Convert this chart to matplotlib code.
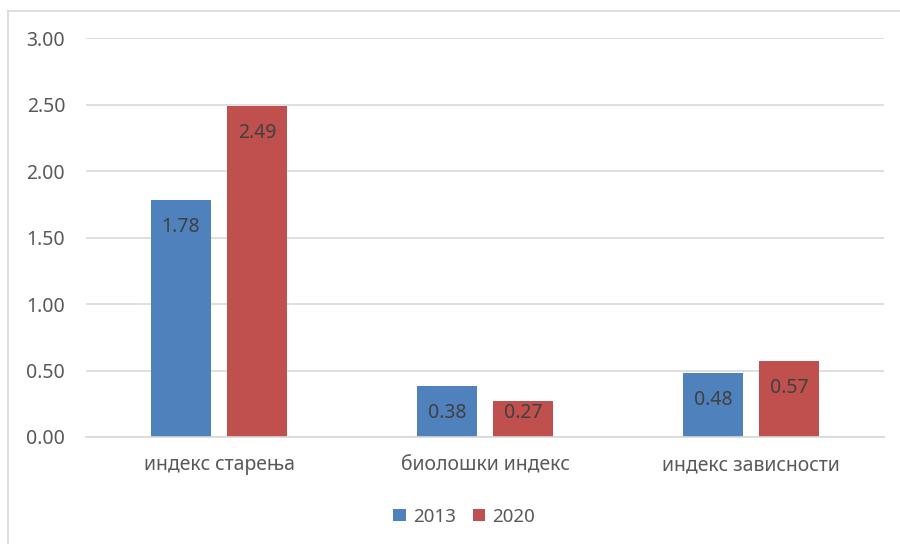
import matplotlib.pyplot as plt
import numpy as np
from matplotlib.lines import Line2D

# данни
categories = ['индекс старења', 'биолошки индекс', 'индекс зависности']
years = ['2013', '2020']
values_2013 = [1.78, 0.38, 0.48]
values_2020 = [2.49, 0.27, 0.57]
colors = ['#4F81BD', '#C0504D']

plt.rcParams['font.family'] = ['Noto Sans', 'DejaVu Sans']

fig = plt.figure(figsize=(9, 5.44), dpi=100)
ax = fig.add_axes([86 / 900, 1 - 437 / 544, 798 / 900, 399 / 544])

x = np.arange(len(categories))
width = 0.2256
offset = 0.1428

for vals, col, off, lab in [(values_2013, colors[0], -offset, years[0]),
                            (values_2020, colors[1], offset, years[1])]:
    bars = ax.bar(x + off, vals, width, color=col, label=lab, zorder=2)
    for b, v in zip(bars, vals):
        # ознака унутар стуба, али не испод дна
        ypos = max(v - 0.203, 0.18)
        ax.text(b.get_x() + b.get_width() / 2, ypos, f'{v:.2f}',
                ha='center', va='center', fontsize=14, color='#404040')

ax.set_xlim(-0.5, 2.5)
ax.set_ylim(0, 3.0)
ax.set_yticks(np.arange(0, 3.01, 0.5))
ax.set_yticklabels([f'{t:.2f}' for t in np.arange(0, 3.01, 0.5)], fontsize=14)
ax.set_xticks(x)
ax.set_xticklabels(categories, fontsize=14)
ax.yaxis.grid(True, color='#d9d9d9', linewidth=1.2, zorder=0)
ax.set_axisbelow(True)
for s in ['top', 'right', 'left']:
    ax.spines[s].set_visible(False)
ax.spines['bottom'].set_color('#d9d9d9')
ax.spines['bottom'].set_linewidth(1.2)
ax.tick_params(axis='both', length=0, colors='#595959')
ax.tick_params(axis='y', pad=15)
ax.tick_params(axis='x', pad=13)

# рамка
fig.add_artist(Line2D([8 / 900, 1], [1 - 11 / 544, 1 - 11 / 544], color='#d9d9d9', lw=1.2))
fig.add_artist(Line2D([8 / 900, 8 / 900], [0, 1 - 11 / 544], color='#d9d9d9', lw=1.2))

fig.legend(loc='center', bbox_to_anchor=(464 / 900, 1 - 516.5 / 544), ncol=2,
           frameon=False, fontsize=13.5, handlelength=0.67, handleheight=0.67,
           handletextpad=0.37, columnspacing=0.9, labelcolor='#595959',
           borderpad=0)

fig.savefig('out.png', dpi=100)
